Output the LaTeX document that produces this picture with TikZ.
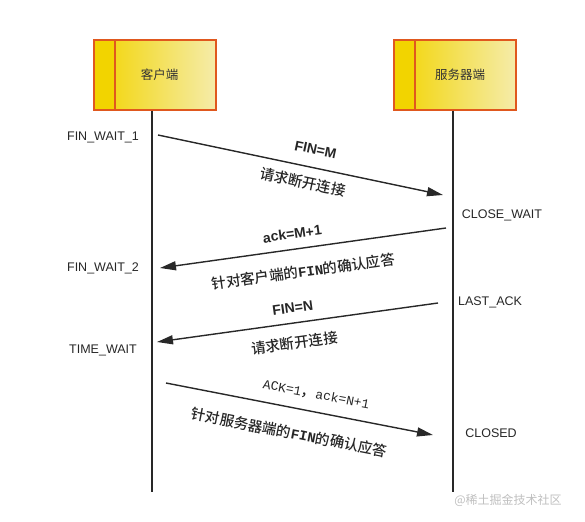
\documentclass[tikz,border=0pt]{standalone}
\usepackage{fontspec}
\setmainfont{Liberation Sans}
\newfontfamily\cjk{Noto Sans CJK SC}
\newfontfamily\cjkb{Noto Sans CJK SC Medium}
\newfontfamily\slmono[AutoFakeSlant=0.2]{Liberation Mono}
\newfontfamily\bmono{Liberation Mono Bold}
\usetikzlibrary{arrows.meta, shadings}

\definecolor{boxline}{RGB}{224,88,30}
\definecolor{boxgold}{RGB}{242,212,0}
\definecolor{boxlight}{RGB}{245,236,170}
\definecolor{wire}{RGB}{40,40,40}

\tikzset{
	partbox/.style={draw=boxline, line width=1.2pt, minimum width=122pt, minimum height=70pt,
		left color=boxgold, right color=boxlight, font=\cjk\fontsize{12.5}{14}\selectfont,
		text=black!80,
		path picture={\fill[boxgold] (path picture bounding box.south west) rectangle ++(21pt,70pt);
			\draw[boxline, line width=1.2pt] ([xshift=21pt]path picture bounding box.south west) -- ++(0,70pt);}},
	lifeline/.style={wire, line width=1.4pt},
	msg/.style={wire, line width=1.4pt},
	state/.style={font=\fontsize{12.5}{14}\selectfont, text=black!85},
	tag/.style={font=\bfseries\fontsize{14}{16}\selectfont, text=black!85, sloped, inner sep=0pt},
	note/.style={font=\cjkb\fontsize{14.5}{16}\selectfont, text=black!85, sloped, inner sep=0pt}
}
\newcommand{\fin}{{\bmono\fontsize{14}{16}\selectfont FIN}}

\begin{document}
\begin{tikzpicture}[x=1pt, y=-1pt]
	\useasboundingbox (0,0) rectangle (585,521);

	% the two parties
	\node[partbox] (client) at (155,75) {\hspace*{9pt}客户端};
	\node[partbox] (server) at (455,75) {\hspace*{10pt}服务器端};
	\coordinate (clientend) at (152,492);
	\coordinate (serverend) at (453,492);
	\draw[lifeline] (client.south -| clientend) -- (clientend);
	\draw[lifeline] (server.south -| serverend) -- (serverend);

	% states
	\node[state] (fw1) at (103,137) {FIN\_WAIT\_1};
	\node[state] (cw) at (502,215) {CLOSE\_WAIT};
	\node[state] (fw2) at (103,268) {FIN\_WAIT\_2};
	\node[state] (la) at (490,302) {LAST\_ACK};
	\node[state] (tw) at (103,350) {TIME\_WAIT};
	\node[state] (cl) at (491,433) {CLOSED};

	% message ends
	\coordinate (m1a) at (158,135);
	\coordinate (m1b) at (443,195);
	\coordinate (m2a) at (160,268);
	\coordinate (m2b) at (446,228);
	\coordinate (m3a) at (157,342);
	\coordinate (m3b) at (438,303);
	\coordinate (m4a) at (166,383);
	\coordinate (m4b) at (433,435);

	% messages
	\draw[msg, -{Triangle[length=16pt, width=9pt]}] (m1a) --
		node[tag, pos=0.54, above=12.5pt] {FIN=M}
		node[note, pos=0.52, below=8.5pt] {请求断开连接} (m1b);
	\draw[msg, {Triangle[length=16pt, width=9pt]}-] (m2a) --
		node[tag, pos=0.47, above=9.5pt] {ack=M+1}
		node[note, pos=0.49, below=16pt] {针对客户端的\fin 的确认应答} (m2b);
	\draw[msg, {Triangle[length=16pt, width=9pt]}-] (m3a) --
		node[tag, pos=0.49, above=9.5pt] {FIN=N}
		node[note, pos=0.48, below=12pt] {请求断开连接} (m3b);
	\draw[msg, -{Triangle[length=16pt, width=9pt]}] (m4a) --
		node[note, pos=0.55, above=11pt] {{\slmono\fontsize{13}{15}\selectfont ACK=1}，{\slmono\fontsize{13}{15}\selectfont ack=N+1}}
		node[note, pos=0.48, below=17.5pt] {针对服务器端的\fin 的确认应答} (m4b);

	% watermark
	\node[font=\cjk\fontsize{12}{14}\selectfont, text=black!25] (mark) at (508,500) {@稀土掘金技术社区};
\end{tikzpicture}
\end{document}
